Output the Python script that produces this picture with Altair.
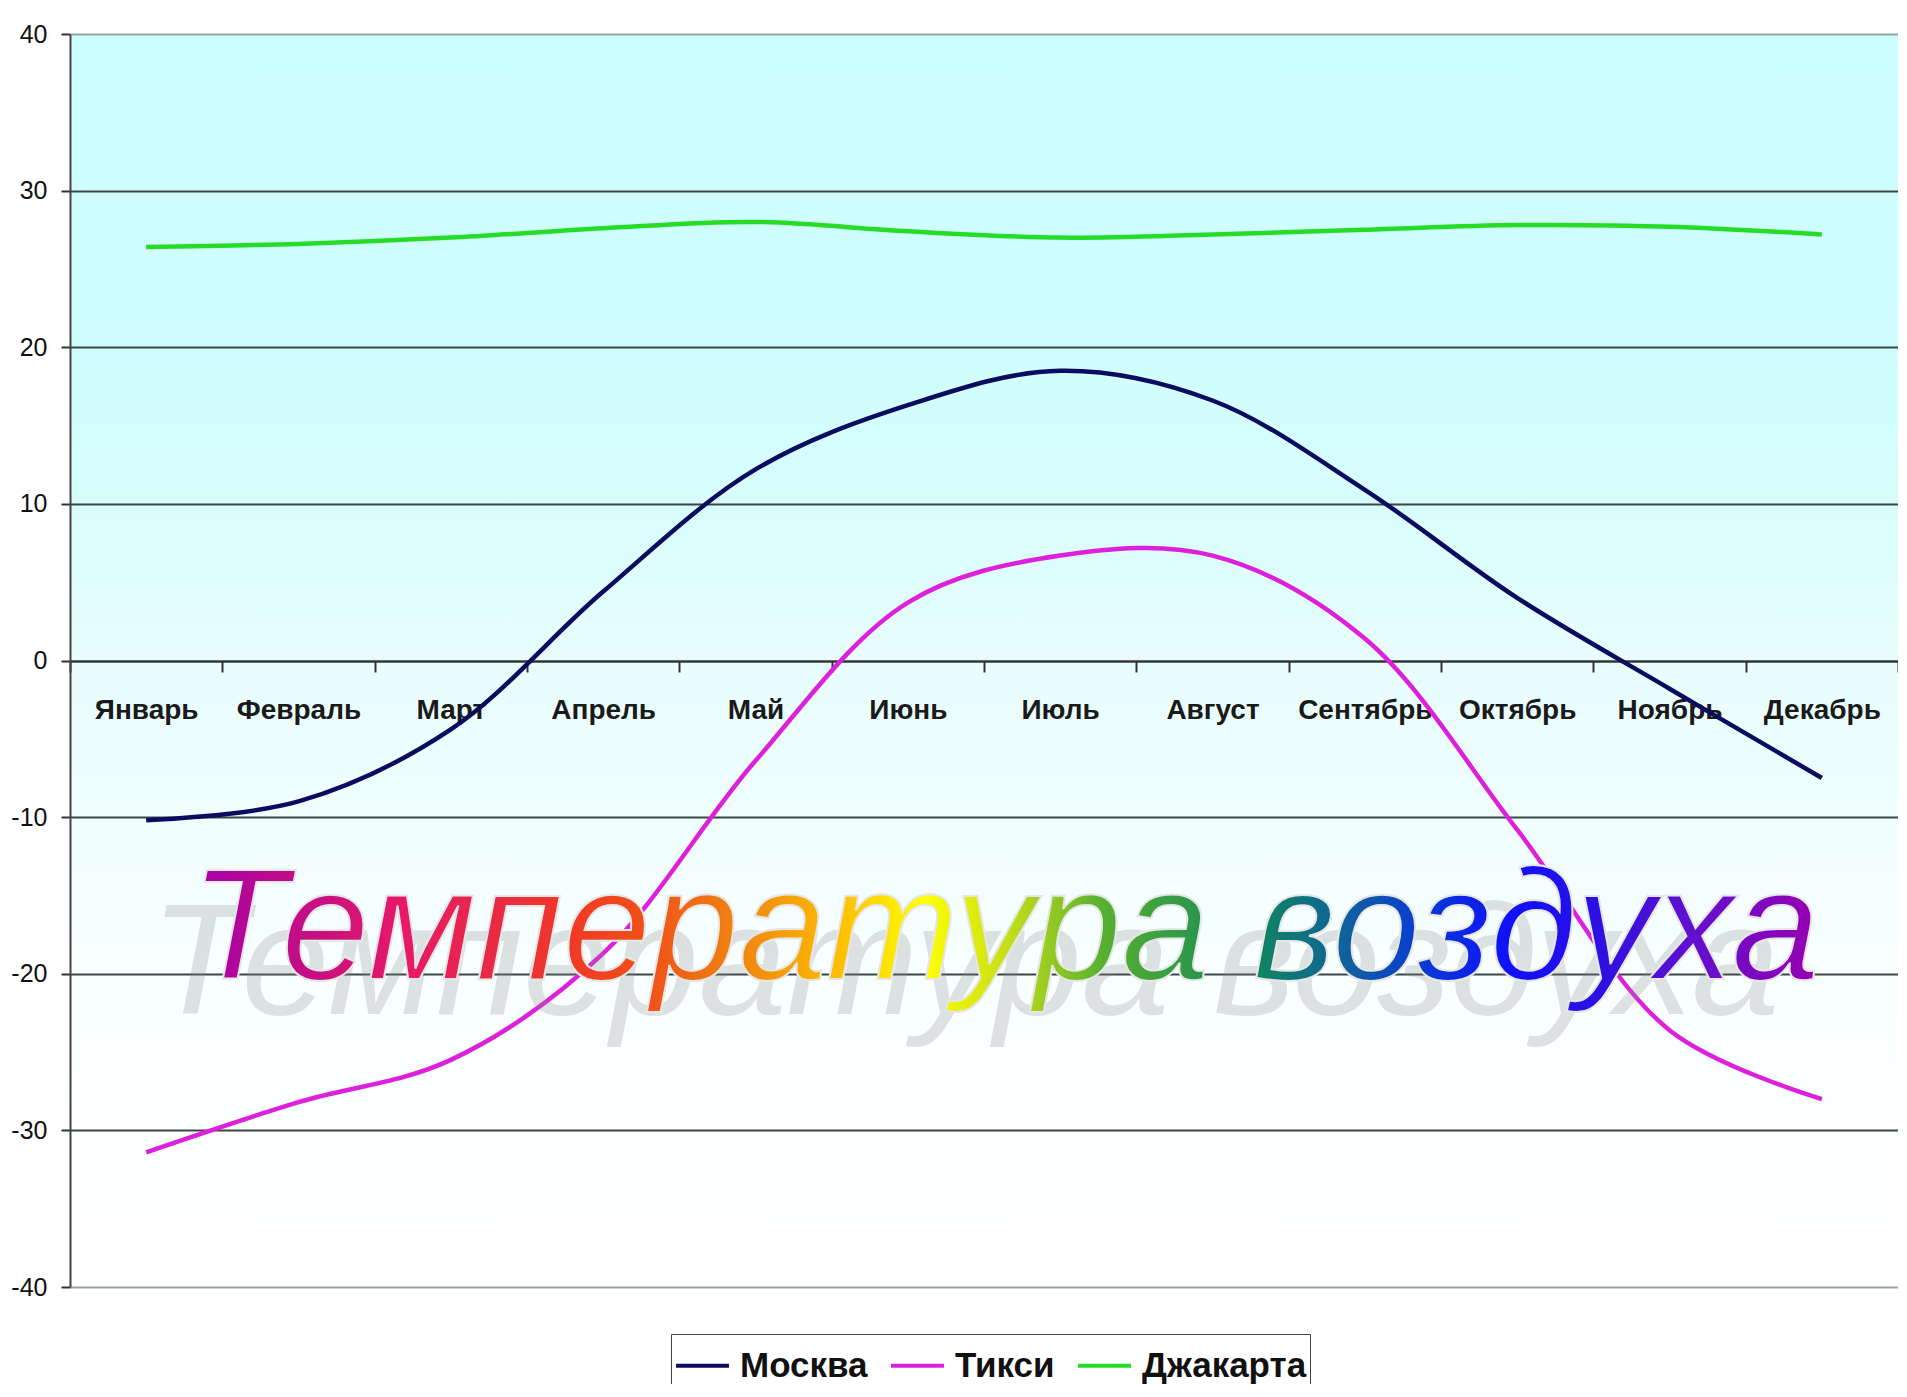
import altair as alt
import pandas as pd

months = ["Январь", "Февраль", "Март", "Апрель", "Май", "Июнь",
          "Июль", "Август", "Сентябрь", "Октябрь", "Ноябрь", "Декабрь"]
moscow = [-10.2, -9.0, -4.4, 4.4, 12.2, 16.3, 18.5, 16.6, 10.9, 4.0, -1.8, -7.5]
tiksi = [-31.4, -28.2, -25.5, -18.7, -6.4, 3.7, 6.7, 6.7, 1.4, -10.8, -23.6, -28.0]
jakarta = [26.4, 26.6, 27.0, 27.6, 28.0, 27.4, 27.0, 27.2, 27.5, 27.8, 27.7, 27.2]
cities = ["Москва", "Тикси", "Джакарта"]
city_colors = ["#0b0b60", "#dc20dc", "#26dc26"]
y_ticks = [-40, -30, -20, -10, 0, 10, 20, 30, 40]
title_text = "Температура воздуха"

rows = []
for city, vals in zip(cities, [moscow, tiksi, jakarta]):
    for i, (m, v) in enumerate(zip(months, vals)):
        rows.append({"city": city, "month": m, "idx": i, "temp": v})
df = pd.DataFrame(rows)
title_df = pd.DataFrame({"t": [title_text]})

SANS = "Liberation Sans, Arial, sans-serif"

bg_stops = [(0.0, "#ccffff"), (0.25, "#d0fefe"), (0.375, "#d8fdfd"), (0.5, "#e8fdfd"),
            (0.625, "#f0fefe"), (0.75, "#f8ffff"), (0.875, "#fdffff"), (1.0, "#ffffff")]
bg_expr = ("{gradient: 'linear', x1: 0, y1: 0, x2: 0, y2: 1, stops: ["
           + ", ".join("{offset: %s, color: '%s'}" % (o, c) for o, c in bg_stops)
           + "]}")

lines = alt.Chart(df).mark_line(interpolate="catmull-rom", strokeWidth=4.5).encode(
    x=alt.X("month:N", sort=months, bandPosition=0.5,
            scale=alt.Scale(type="band", paddingInner=0, paddingOuter=0),
            axis=alt.Axis(title=None, orient="bottom", offset=-626, labelAngle=0,
                          labelFontSize=28, labelFontWeight="bold", labelFont=SANS,
                          labelColor="#1a1a1a", labelPadding=24, tickBand="extent",
                          tickSize=11, tickWidth=2, tickColor="#333333",
                          domainColor="#333333", domainWidth=2, grid=False,
                          labelLimit=300)),
    y=alt.Y("temp:Q", scale=alt.Scale(domain=[-40, 40], nice=False, zero=False),
            axis=alt.Axis(title=None, values=y_ticks, labelExpr="'' + datum.value",
                          labelFontSize=25, labelFont=SANS,
                          labelColor="#111111", labelPadding=14, tickSize=9, tickWidth=2,
                          tickColor="#333333", domainColor="#444444", domainWidth=2,
                          grid=True,
                          gridColor=alt.condition("abs(datum.value) == 40",
                                                  alt.value("#9aa3a3"),
                                                  alt.value("#3c4444")),
                          gridWidth=2)),
    color=alt.Color("city:N", scale=alt.Scale(domain=cities, range=city_colors),
                    legend=alt.Legend(title=None, orient="none", legendX=601, legendY=1300,
                                      direction="horizontal", symbolType="stroke",
                                      symbolSize=2800, symbolStrokeWidth=4,
                                      labelFont=SANS, labelFontSize=35,
                                      labelFontWeight="bold", labelColor="#111111",
                                      labelOffset=9, columnPadding=15, padding=3,
                                      strokeColor="#444444", fillColor="white",
                                      labelLimit=400)),
    order=alt.Order("idx:Q"),
)

rainbow = alt.LinearGradient(
    gradient="linear", x1=0, x2=1, y1=0, y2=0,
    stops=[
        alt.GradientStop(color="#a400a8", offset=0.0),
        alt.GradientStop(color="#c81080", offset=0.08),
        alt.GradientStop(color="#e81868", offset=0.13),
        alt.GradientStop(color="#e82848", offset=0.18),
        alt.GradientStop(color="#f03828", offset=0.23),
        alt.GradientStop(color="#f05018", offset=0.28),
        alt.GradientStop(color="#f08810", offset=0.34),
        alt.GradientStop(color="#ffc000", offset=0.40),
        alt.GradientStop(color="#ffff00", offset=0.45),
        alt.GradientStop(color="#c8e018", offset=0.50),
        alt.GradientStop(color="#58b030", offset=0.56),
        alt.GradientStop(color="#108858", offset=0.65),
        alt.GradientStop(color="#1060a0", offset=0.71),
        alt.GradientStop(color="#0838d8", offset=0.76),
        alt.GradientStop(color="#1010f8", offset=0.81),
        alt.GradientStop(color="#3010e0", offset=0.87),
        alt.GradientStop(color="#6010d0", offset=0.92),
        alt.GradientStop(color="#9800b0", offset=1.0),
    ],
)

shadow = alt.Chart(title_df).mark_text(
    font=SANS, fontSize=158, fontStyle="italic", color="#8c8c8c", opacity=0.25,
    align="center", baseline="alphabetic", dx=-40, dy=35,
).encode(x=alt.value(935), y=alt.value(945), text="t:N")

title = alt.Chart(title_df).mark_text(
    font=SANS, fontSize=158, fontStyle="italic", color=rainbow,
    stroke="#e6e6e6", strokeWidth=2, align="center", baseline="alphabetic",
).encode(x=alt.value(935), y=alt.value(945), text="t:N")

chart = alt.layer(lines, shadow, title).properties(
    width=1828, height=1253,
    autosize=alt.AutoSizeParams(type="none"),
    padding={"left": 62, "top": 26, "right": 0, "bottom": 97},
    background="white",
).configure_view(stroke=None, fill=alt.ExprRef(expr=bg_expr))

chart.save("out.html", embed_options={"renderer": "svg", "actions": False})
